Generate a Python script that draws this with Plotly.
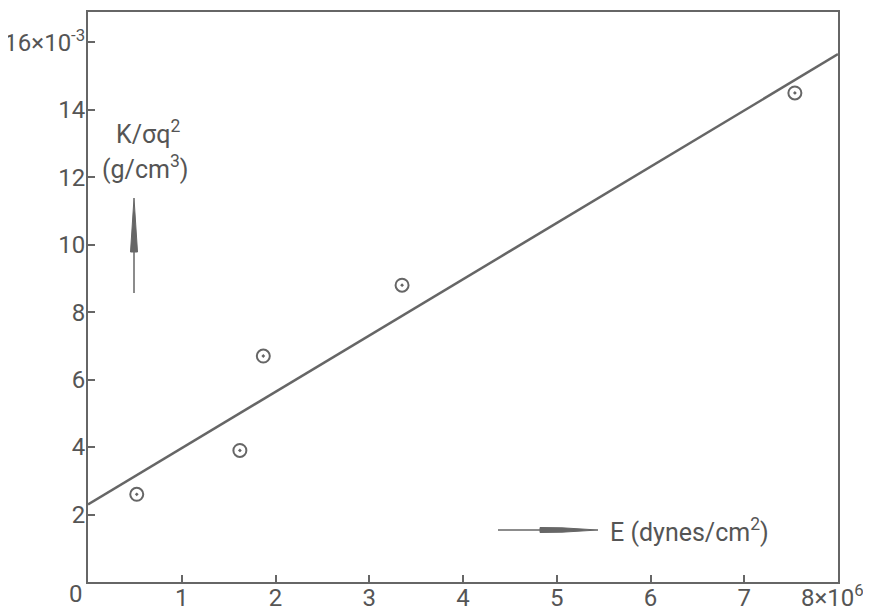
import plotly.graph_objects as go

# Data (E in 1e6 dynes/cm^2, K/(sigma q^2) in 1e-3 g/cm^3)
E_vals = [0.52, 1.62, 1.87, 3.35, 7.54]
K_vals = [2.6, 3.9, 6.7, 8.8, 14.5]
fit_x = [0, 8]
fit_y = [2.3, 15.65]

x_ticks = [1, 2, 3, 4, 5, 6, 7, 8]
x_ticktext = ["1", "2", "3", "4", "5", "6", "7", ""]
x_end_label = "8×10<sup>6</sup>"
y_ticks = [2, 4, 6, 8, 10, 12, 14, 16]
y_ticktext = ["2", "4", "6", "8", "10", "12", "14", "16×10<sup>-3</sup>"]

INK = "#666666"
TXT = "#555555"
TICKFONT = dict(family="Roboto, sans-serif", size=24, color=TXT)
LBLFONT = dict(family="Roboto, sans-serif", size=25, color=TXT)

fig = go.Figure()
fig.add_trace(go.Scatter(x=fit_x, y=fit_y, mode="lines",
                         line=dict(color=INK, width=2.5), cliponaxis=True,
                         showlegend=False, hoverinfo="skip"))
fig.add_trace(go.Scatter(x=E_vals, y=K_vals, mode="markers",
                         marker=dict(symbol="circle-open-dot", size=13, color=INK,
                                     line=dict(width=2, color=INK)),
                         showlegend=False))

# pixel->data helpers for decorations (plot area 88..838 x, 12..582 y in page pixels)
X0, X1, Y0, Y1 = 0.0, 8.0, 0.0, 16.9
def dx(px):
    return X0 + (px - 88) / (838 - 88) * (X1 - X0)
def dy(py):
    return Y0 + (582 - py) / (582 - 12) * (Y1 - Y0)
def px_paper(px):
    return (px - 88) / (838 - 88)
def py_paper(py):
    return (582 - py) / (582 - 12)

# y-axis label arrow (vertical, pointing up)
fig.add_shape(type="line", x0=dx(134), x1=dx(134), y0=dy(293), y1=dy(240),
              line=dict(color=INK, width=1.5))
fig.add_shape(type="path",
              path=f"M {dx(130.5)},{dy(252)} L {dx(134)},{dy(198)} L {dx(137.5)},{dy(252)} Z",
              fillcolor=INK, line=dict(color=INK, width=1))
# x-axis label arrow (horizontal, pointing right)
fig.add_shape(type="line", x0=dx(498), x1=dx(545), y0=dy(530), y1=dy(530),
              line=dict(color=INK, width=1.5))
fig.add_shape(type="path",
              path=(f"M {dx(540)},{dy(527.5)} L {dx(562)},{dy(527.8)} L {dx(598)},{dy(530)} "
                    f"L {dx(562)},{dy(532.2)} L {dx(540)},{dy(532.5)} Z"),
              fillcolor=INK, line=dict(color=INK, width=1))

fig.add_annotation(x=dx(148), y=dy(132), text="K/σq<sup>2</sup>", showarrow=False,
                   font=LBLFONT, xanchor="center", yanchor="middle")
fig.add_annotation(x=dx(145), y=dy(167), text="(g/cm<sup>3</sup>)", showarrow=False,
                   font=LBLFONT, xanchor="center", yanchor="middle")
fig.add_annotation(x=dx(608), y=dy(530), text="E (dynes/cm<sup>2</sup>)", showarrow=False,
                   font=LBLFONT, xanchor="left", yanchor="middle")
fig.add_annotation(xref="paper", yref="paper", x=px_paper(76), y=py_paper(594), text="0",
                   showarrow=False, font=TICKFONT, xanchor="center", yanchor="middle")
fig.add_annotation(xref="paper", yref="paper", x=px_paper(866), y=py_paper(596),
                   text=x_end_label, showarrow=False, font=TICKFONT,
                   xanchor="right", yanchor="middle")

common = dict(ticks="inside", ticklen=7, tickwidth=2, tickcolor=INK,
              showline=True, linecolor=INK, linewidth=2, mirror=True,
              showgrid=False, zeroline=False, tickfont=TICKFONT,
              automargin=False, ticklabeloverflow="allow")
fig.update_xaxes(range=[X0, X1], tickvals=x_ticks, ticktext=x_ticktext,
                 ticklabelstandoff=-7, **common)
fig.update_yaxes(range=[Y0, Y1], tickvals=y_ticks, ticktext=y_ticktext,
                 ticklabelstandoff=-4, **common)

# page body has an 8px margin, so the figure is offset by 8px; compensate
fig.update_layout(width=863, height=599, margin=dict(l=80, r=33, t=4, b=25),
                  plot_bgcolor="white", paper_bgcolor="white", showlegend=False)

fig.write_html("out.html")
